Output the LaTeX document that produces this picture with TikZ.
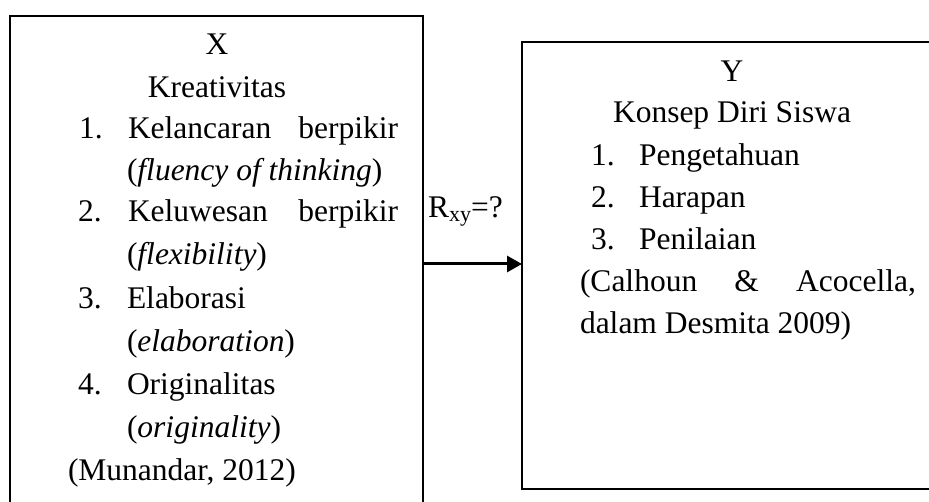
\documentclass[tikz,border=0pt]{standalone}
\usepackage{fontspec}
\setmainfont{Liberation Serif}
\usetikzlibrary{arrows.meta}
\begin{document}
\begin{tikzpicture}[x=1pt,y=-1pt,
  box/.style={draw, line width=2pt, inner sep=0pt, outer sep=0pt},
  txt/.style={inner sep=0pt, outer sep=0pt, anchor=base west, font=\fontsize{31.5}{42}\selectfont},
  ctxt/.style={txt, anchor=base},
  conn/.style={line width=3pt, -{Triangle[length=15pt,width=16pt]}}]
\useasboundingbox (0,0) rectangle (929,502);
\clip (0,0) rectangle (929,502);
% boxes
\node[box, minimum width=413pt, minimum height=496pt] (X) at (216.5,264) {};
\node[box, minimum width=419pt, minimum height=447pt] (Y) at (731.5,265.5) {};
% left box text
\node[ctxt] (x0) at (217,55) {X};
\node[ctxt] (x1) at (217,98) {Kreativitas};
\node[txt] (n1) at (79,139) {1.};
\node[txt] (t1) at (128,139) {\hbox to 270pt{Kelancaran\hfill berpikir}};
\node[txt] (t1b) at (127,181) {(\textit{fluency of thinking})};
\node[txt] (n2) at (78,222) {2.};
\node[txt] (t2) at (128,222) {\hbox to 270pt{Keluwesan\hfill berpikir}};
\node[txt] (t2b) at (127,265) {(\textit{flexibility})};
\node[txt] (n3) at (78,309) {3.};
\node[txt] (t3) at (127,309) {Elaborasi};
\node[txt] (t3b) at (127,352) {(\textit{elaboration})};
\node[txt] (n4) at (78,395) {4.};
\node[txt] (t4) at (127,395) {Originalitas};
\node[txt] (t4b) at (127,437) {(\textit{originality})};
\node[txt] (src1) at (68,480) {(Munandar, 2012)};
% right box text
\node[ctxt] (y0) at (732,82) {Y};
\node[ctxt] (y1) at (732,123) {Konsep Diri Siswa};
\node[txt] (m1) at (591,166) {1.};
\node[txt] (u1) at (639,166) {Pengetahuan};
\node[txt] (m2) at (591,208) {2.};
\node[txt] (u2) at (639,208) {Harapan};
\node[txt] (m3) at (591,250) {3.};
\node[txt] (u3) at (639,250) {Penilaian};
\node[txt] (src2) at (580,292) {\hbox to 336pt{(Calhoun\hfill\&\hfill Acocella,}};
\node[txt] (src2b) at (580,334) {dalam Desmita 2009)};
% connector
\node[txt] (r) at (428,218) {R\raisebox{-4pt}{\fontsize{22}{22}\selectfont xy}=?};
\draw[conn] (X.east) -- (X.east -| Y.west);
\end{tikzpicture}
\end{document}
